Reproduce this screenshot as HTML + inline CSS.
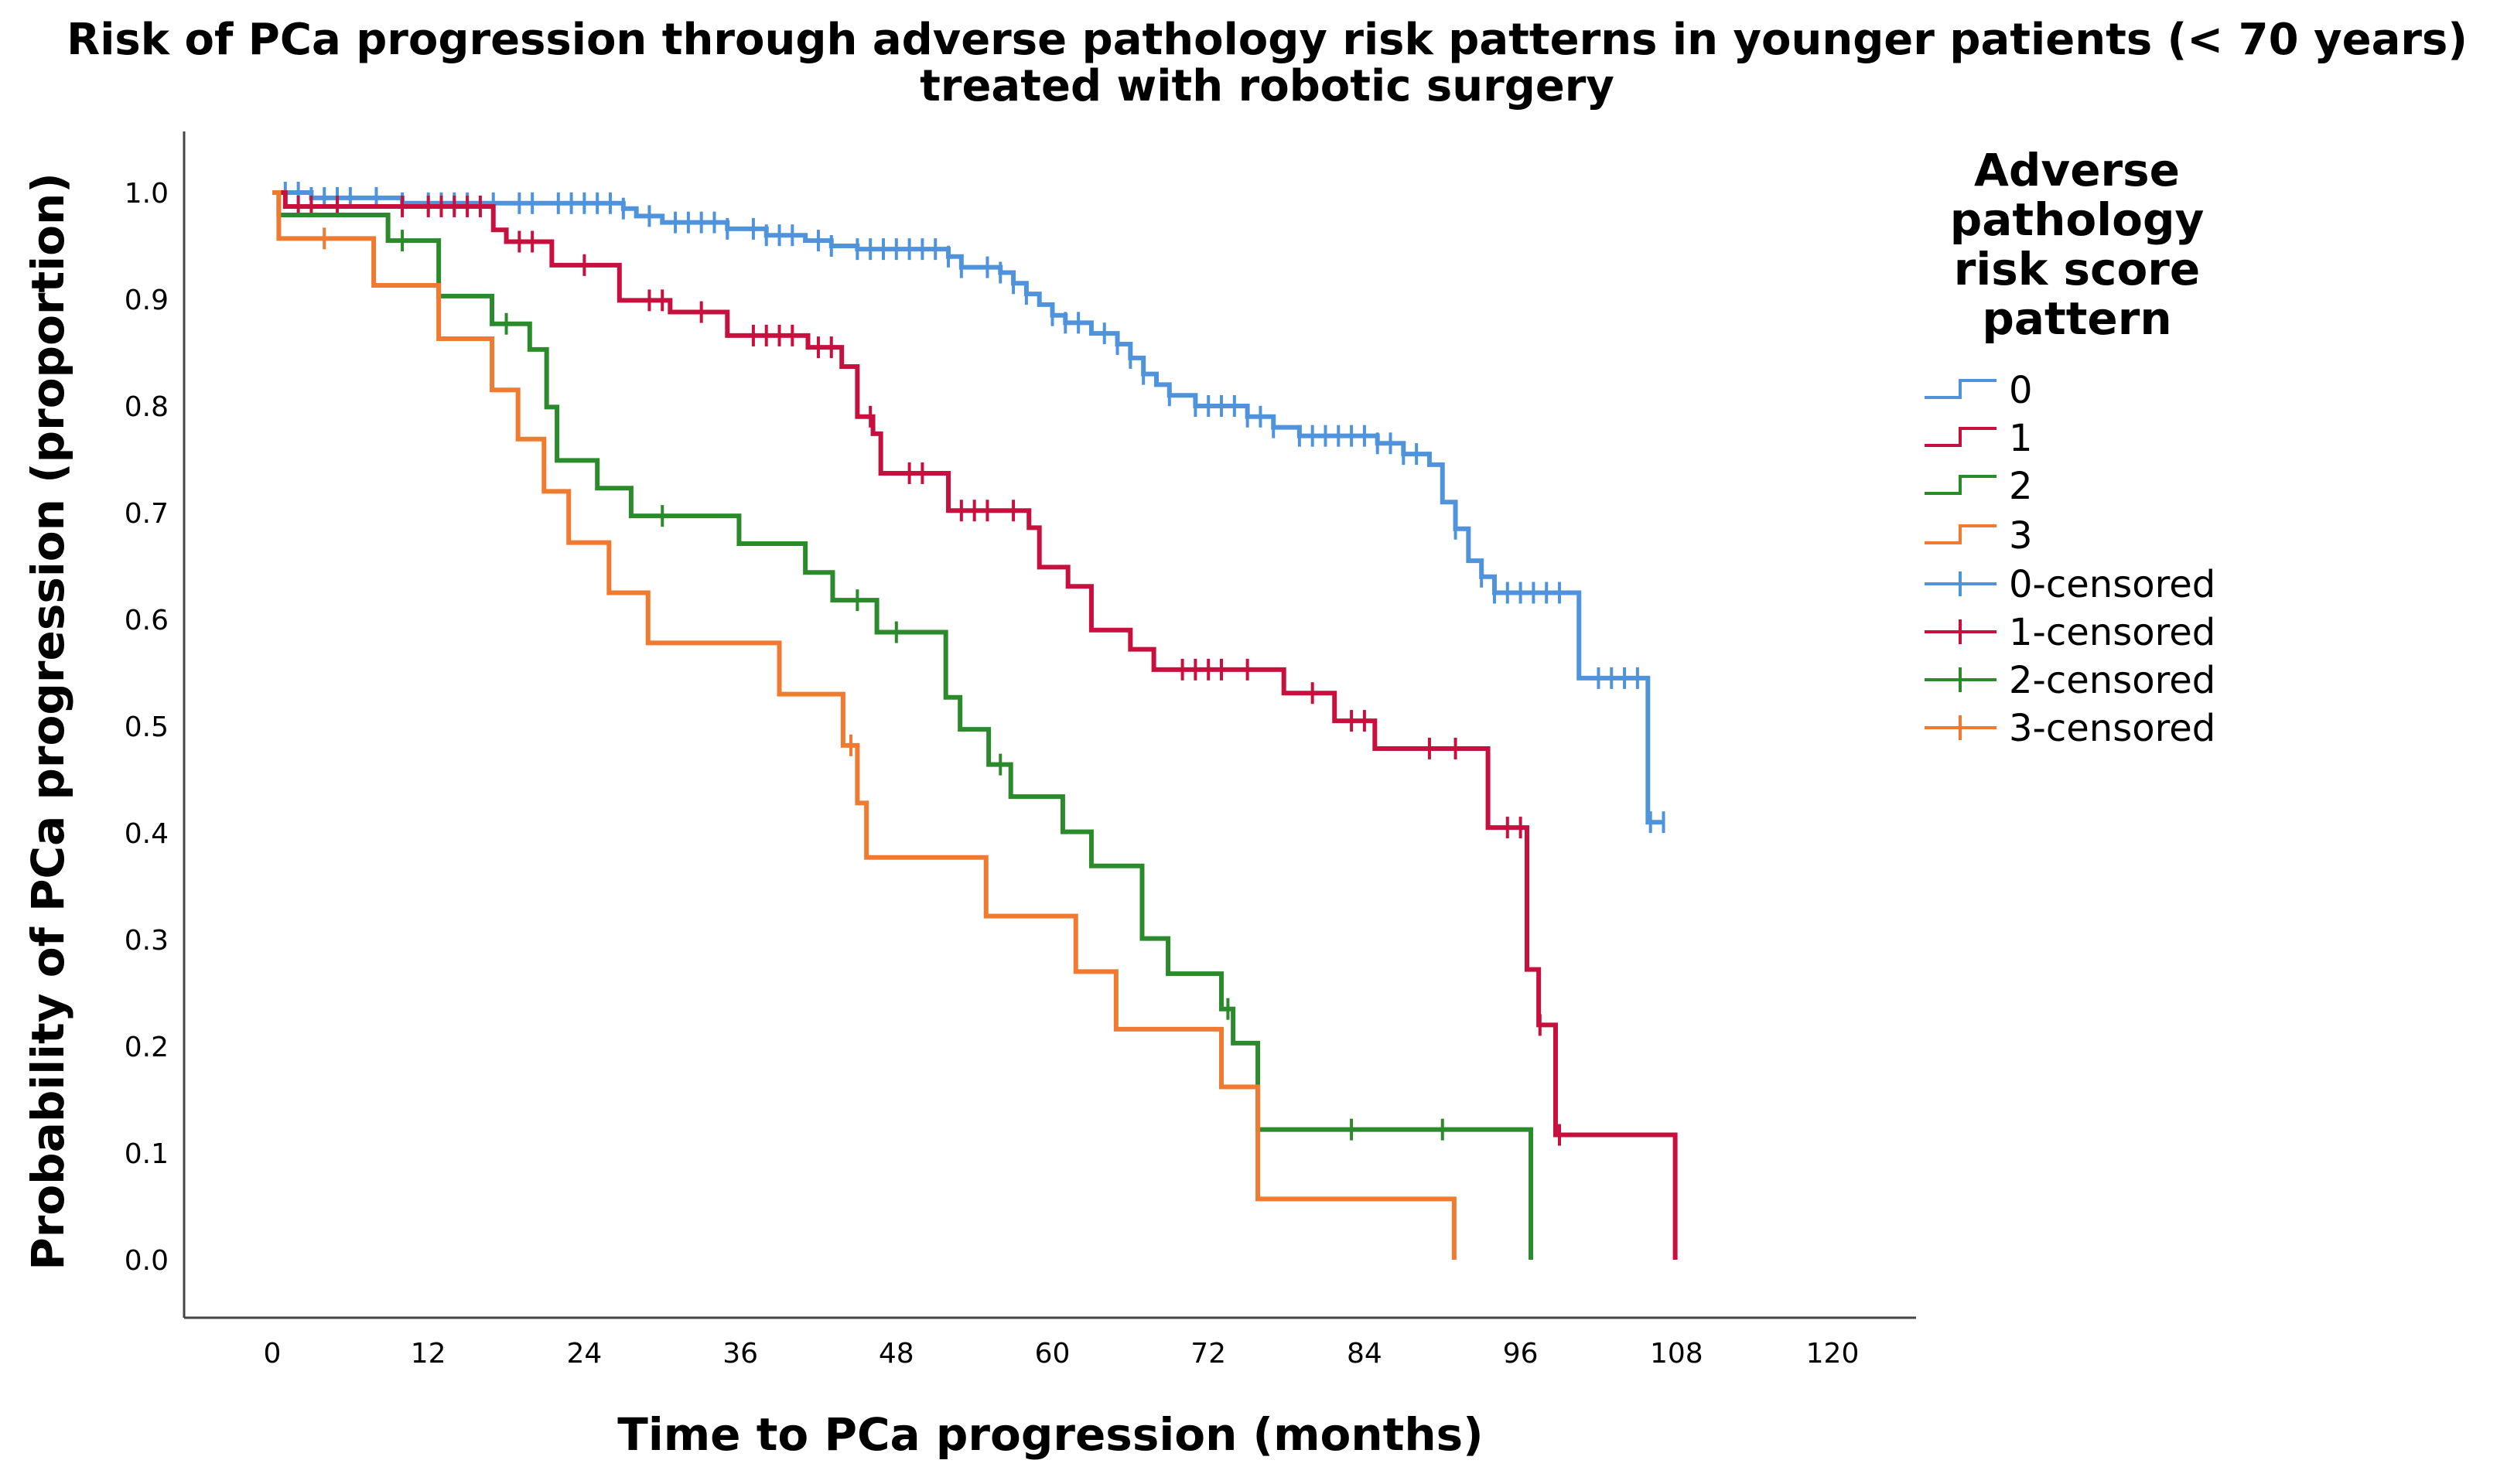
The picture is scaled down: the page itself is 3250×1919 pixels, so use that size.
<!DOCTYPE html>
<html><head><meta charset="utf-8"><style>
body{margin:0;background:#fff;}
svg{display:block;font-family:"DejaVu Sans","Liberation Sans",sans-serif;}
</style></head><body>
<svg id="chart" width="3250" height="1919" viewBox="0 0 3250 1919">
<text x="1638" y="70" text-anchor="middle" font-size="56" font-weight="bold">Risk of PCa progression through adverse pathology risk patterns in younger patients (&lt; 70 years)</text>
<text x="1638" y="130" text-anchor="middle" font-size="56" font-weight="bold">treated with robotic surgery</text>
<line x1="238" y1="170" x2="238" y2="1704" stroke="#444" stroke-width="3"/>
<line x1="238" y1="1704" x2="2477" y2="1704" stroke="#444" stroke-width="3"/>
<text transform="translate(82,933) rotate(-90)" text-anchor="middle" font-size="58" font-weight="bold">Probability of PCa progression (proportion)</text>
<text x="1358" y="1875" text-anchor="middle" font-size="58" font-weight="bold">Time to PCa progression (months)</text>
<g id="ticks"></g>
<g id="series"></g>
<g id="legend">
<text x="2685" y="240" text-anchor="middle" font-size="58" font-weight="bold">Adverse</text>
<text x="2685" y="304" text-anchor="middle" font-size="58" font-weight="bold">pathology</text>
<text x="2685" y="368" text-anchor="middle" font-size="58" font-weight="bold">risk score</text>
<text x="2685" y="432" text-anchor="middle" font-size="58" font-weight="bold">pattern</text>
</g>
</svg>
<script>
const xTicks=[0,12,24,36,48,60,72,84,96,108,120];
const yTicks=[0,0.1,0.2,0.3,0.4,0.5,0.6,0.7,0.8,0.9,1.0];
const t0=[0,3,10,27,28,30,35,38,41,43,45,52,53,56,57,58,59,60,61,63,65,66,67,68,69,71,75,77,79,85,87,89,90,91,92,93,94,100.5,105.8,107];
const s0=[1,0.995,0.99,0.985,0.978,0.972,0.966,0.96,0.955,0.95,0.947,0.94,0.93,0.925,0.915,0.905,0.895,0.885,0.878,0.868,0.858,0.845,0.83,0.82,0.81,0.80,0.79,0.78,0.772,0.765,0.755,0.745,0.71,0.685,0.655,0.64,0.625,0.545,0.41,0.41];
const c0=[1,2,3,4,5,6,8,10,12,13,14,15,17,19,20,22,23,24,25,26,27,29,31,32,33,34,35,37,38,39,40,42,43,45,46,47,48,49,50,51,52,53,55,56,57,58,60,61,62,64,65,66,67,69,71,72,73,74,75,76,77,79,80,81,82,83,84,85,86,87,88,91,93,94,95,96,97,98,99,102,103,104,105,106,107];
const t1=[0,1,17,18,21.5,26.7,30.6,35,41.2,43.8,45,46.2,46.8,52,58.2,59,61.2,63,66,67.8,77.8,81.7,84.8,93.5,96.5,97.4,98.7,107.9];
const s1=[1,0.987,0.965,0.954,0.932,0.899,0.888,0.866,0.855,0.837,0.79,0.774,0.737,0.702,0.686,0.649,0.631,0.590,0.572,0.553,0.531,0.505,0.479,0.405,0.272,0.220,0.117,0];
const c1=[2,3,5,10,12,13,14,15,16,19,20,24,29,30,33,37,38,39,40,42,43,46,49,50,53,54,55,57,70,71,72,73,75,80,83,84,89,91,95,96,97.5,99];
const t2=[0,0.5,8.9,12.8,16.9,19.8,21.1,21.9,25,27.6,35.9,41,43.1,46.5,51.8,52.9,55.1,56.8,60.8,63,66.9,68.9,73,73.9,75.8,96.8];
const s2=[1,0.979,0.955,0.903,0.877,0.853,0.799,0.749,0.723,0.697,0.671,0.644,0.618,0.588,0.527,0.497,0.464,0.434,0.401,0.369,0.301,0.268,0.235,0.203,0.122,0];
const c2=[10,18,30,45,48,56,73.5,83,90];
const t3=[0,0.5,7.8,12.8,16.9,18.9,20.9,22.8,25.9,28.9,39,43.9,45,45.7,54.9,61.8,64.9,73,75.8,90.9];
const s3=[1,0.957,0.913,0.863,0.815,0.769,0.720,0.672,0.625,0.578,0.530,0.482,0.428,0.377,0.322,0.270,0.216,0.162,0.057,0];
const c3=[4,44.5];
const names=["0","1","2","3"];
const colors=["#4f93dc","#c8103e","#2b8a2b","#f07a30"];
const NS="http://www.w3.org/2000/svg";
const X=m=>352+m*(2369-352)/120;
const Y=p=>1629-p*1380;
function mk(tag,attrs,parent){const e=document.createElementNS(NS,tag);for(const k in attrs)e.setAttribute(k,attrs[k]);parent.appendChild(e);return e;}
const tg=document.getElementById('ticks');
xTicks.forEach(v=>{const t=mk('text',{x:X(v),y:1762,'text-anchor':'middle','font-size':36},tg);t.textContent=v;

});
yTicks.forEach(v=>{const t=mk('text',{x:218,y:Y(v)+13,'text-anchor':'end','font-size':36},tg);t.textContent=v.toFixed(1);

});
const sg=document.getElementById('series');
function stepAt(ts,ss,m){let v=ss[0];for(let i=0;i<ts.length;i++){if(ts[i]<=m)v=ss[i];}return v;}
[[t0,s0,c0],[t1,s1,c1],[t2,s2,c2],[t3,s3,c3]].forEach((d,k)=>{
const [ts,ss,cs]=d;
let p='M'+X(ts[0])+','+Y(ss[0]);
for(let i=1;i<ts.length;i++){p+=' H'+X(ts[i])+' V'+Y(ss[i]);}
const path=mk('path',{d:p,fill:'none',stroke:colors[k],'stroke-width':6},sg);


cs.forEach(c=>{const y=Y(stepAt(ts,ss,c));const l=mk('line',{x1:X(c),x2:X(c),y1:y-14,y2:y+14,stroke:colors[k],'stroke-width':4},sg);

});
});
const lg=document.getElementById('legend');
const ly=[504,566,628,692,755,817,879,941];
for(let i=0;i<8;i++){const k=i%4;const y=ly[i];
const g=mk('g',{},lg);


if(i<4){mk('path',{d:`M2488,${y+10} H2534 V${y-12} H2581`,fill:'none',stroke:colors[k],'stroke-width':4},g);}
else{mk('path',{d:`M2488,${y} H2581 M2534,${y-16} V${y+16}`,fill:'none',stroke:colors[k],'stroke-width':4},g);}
const t=mk('text',{x:2597,y:y+17,'font-size':48},g);t.textContent=names[k]+(i>3?'-censored':'');}
</script>
</body></html>
